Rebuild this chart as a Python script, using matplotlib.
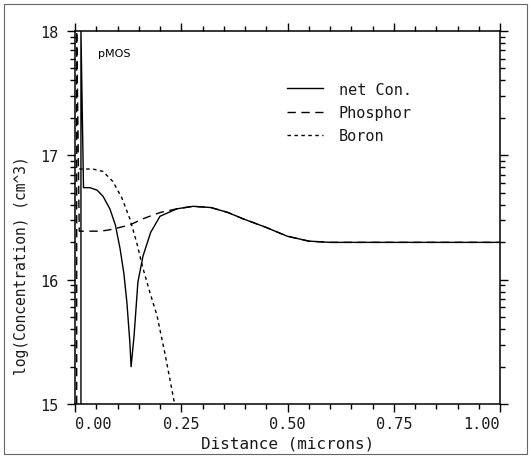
import numpy as np
import matplotlib
matplotlib.use("Agg")
import matplotlib.pyplot as plt
from matplotlib.patches import Rectangle

# ---- data (log10 of concentration, cm^-3) ----
net_x = [0.014, 0.014, 0.020, 0.035, 0.052, 0.066, 0.082, 0.095, 0.106, 0.115, 0.122, 0.129, 0.132,
         0.139, 0.148, 0.160, 0.178, 0.200, 0.240, 0.278, 0.320, 0.360, 0.395, 0.450, 0.499, 0.550,
         0.600, 0.700, 0.800, 0.900, 1.000]
net_y = [15.00, 18.00, 16.74, 16.74, 16.72, 16.67, 16.57, 16.44, 16.25, 16.05, 15.82, 15.50, 15.30,
         15.55, 15.98, 16.19, 16.38, 16.51, 16.57, 16.59, 16.58, 16.54, 16.49, 16.42, 16.35, 16.31,
         16.30, 16.30, 16.30, 16.30, 16.30]

phos_x = [0.004, 0.004, 0.010, 0.030, 0.060, 0.080, 0.105, 0.129, 0.160, 0.200, 0.240, 0.278,
          0.320, 0.360, 0.395, 0.450, 0.499, 0.550, 0.600, 0.700, 0.800, 0.900, 1.000]
phos_y = [15.00, 18.00, 16.39, 16.39, 16.39, 16.40, 16.42, 16.44, 16.49, 16.54, 16.57, 16.59,
          16.58, 16.54, 16.49, 16.42, 16.35, 16.31, 16.30, 16.30, 16.30, 16.30, 16.30]

boron_x = [0.010, 0.024, 0.042, 0.066, 0.089, 0.110, 0.129, 0.145, 0.160, 0.176, 0.193, 0.212, 0.231, 0.240]
boron_y = [16.89, 16.89, 16.89, 16.87, 16.79, 16.66, 16.49, 16.30, 16.09, 15.90, 15.71, 15.40, 15.06, 14.90]

x_ticks = [0.00, 0.25, 0.50, 0.75, 1.00]
x_ticklabels = ["0.00", "0.25", "0.50", "0.75", "1.00"]
y_ticks = [15, 16, 17, 18]
y_ticklabels = ["15", "16", "17", "18"]

W, H = 531, 460
fig = plt.figure(figsize=(W / 100, H / 100), dpi=100)
mono = "DejaVu Sans Mono"
ink = "#1a1a1a"

ax = fig.add_axes([75 / W, 55 / H, 425 / W, 373 / H])
ax.plot(net_x, net_y, color="black", lw=1.0, label="net Con.")
ax.plot(phos_x, phos_y, color="black", lw=1.0, dashes=(6, 4), label="Phosphor")
ax.plot(boron_x, boron_y, color="black", lw=1.0, dashes=(2.5, 2.5), label="Boron")

ax.set_xlim(0, 1.0)
ax.set_ylim(15, 18)

ax.set_xticks(x_ticks)
ax.set_xticks(np.arange(0, 1.0001, 0.05), minor=True)
ax.set_yticks(y_ticks)
minor_y = [d + np.log10(k) for d in (15, 16, 17) for k in range(2, 10)]
ax.set_yticks(minor_y, minor=True)

ax.set_xticklabels(x_ticklabels, fontfamily=mono, fontsize=11, color=ink)
for i, t in enumerate(ax.get_xticklabels()):
    if i == 0:
        t.set_ha("left")
    elif i == len(x_ticks) - 1:
        t.set_ha("right")
ax.set_yticklabels(y_ticklabels, fontfamily=mono, fontsize=11, color=ink)

ax.tick_params(which="both", direction="out", top=True, right=True, width=1.0)
ax.tick_params(which="major", length=6, pad=6)
ax.tick_params(which="minor", length=3.5)
ax.tick_params(axis="x", which="major", pad=3)
for s in ax.spines.values():
    s.set_linewidth(1.1)

ax.set_xlabel("Distance (microns)", fontfamily=mono, fontsize=11.5, labelpad=3, color=ink)
fig.text(22 / W, 1 - 266 / H, "log(Concentration) (cm^3)", rotation=90,
         ha="center", va="center", fontfamily=mono, fontsize=10.5, color=ink)

ax.text(0.055, 0.94, "pMOS", transform=ax.transAxes, fontsize=8,
        fontfamily="DejaVu Sans", ha="left", va="center")

leg = ax.legend(loc="upper left", bbox_to_anchor=(0.48, 0.885), frameon=False,
                prop={"family": mono, "size": 11}, handlelength=2.4,
                labelspacing=0.55, handletextpad=1.0, borderpad=0)
for t in leg.get_texts():
    t.set_color(ink)

fig.patches.append(Rectangle((4 / W, 5 / H), 523 / W, 450 / H, transform=fig.transFigure,
                             fill=False, edgecolor="#666666", lw=0.8))

fig.savefig("out.png", dpi=100)
